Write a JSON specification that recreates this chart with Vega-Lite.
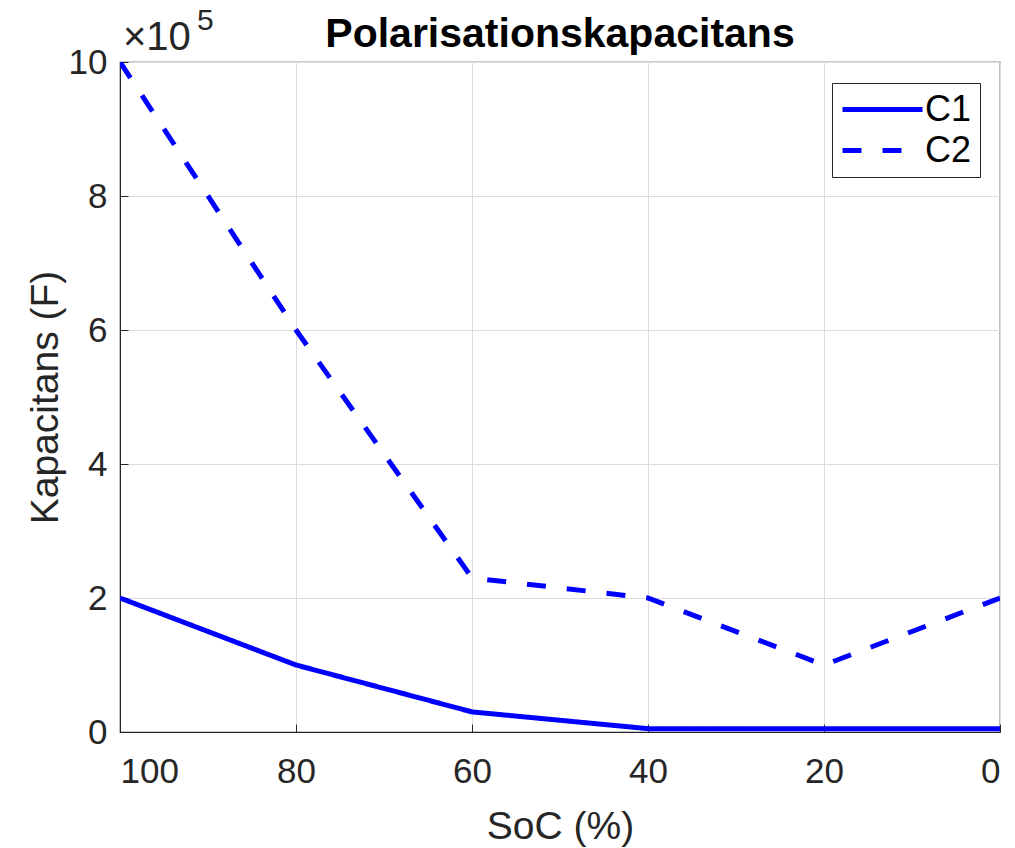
{
  "$schema": "https://vega.github.io/schema/vega-lite/v6.json",
  "width": 880,
  "height": 670,
  "autosize": {"type": "none"},
  "padding": {"left": 120, "top": 62, "right": 15, "bottom": 116},
  "background": "white",
  "config": {
    "font": "Liberation Sans",
    "view": {"stroke": "#262626", "strokeWidth": 1.2},
    "axis": {
      "labelFont": "Liberation Sans",
      "titleFont": "Liberation Sans",
      "labelColor": "#262626",
      "titleColor": "#262626",
      "labelFontSize": 35,
      "titleFontSize": 39,
      "titleFontWeight": "normal",
      "gridColor": "#dcdcdc",
      "gridWidth": 1,
      "domainColor": "#262626",
      "tickColor": "#262626",
      "tickSize": -8
    }
  },
  "data": {
    "values": [
      {"soc": 100, "cap": 200000, "series": "C1"},
      {"soc": 80, "cap": 100000, "series": "C1"},
      {"soc": 60, "cap": 30000, "series": "C1"},
      {"soc": 40, "cap": 5000, "series": "C1"},
      {"soc": 20, "cap": 5000, "series": "C1"},
      {"soc": 0, "cap": 5000, "series": "C1"},
      {"soc": 100, "cap": 1000000, "series": "C2"},
      {"soc": 80, "cap": 600000, "series": "C2"},
      {"soc": 60, "cap": 230000, "series": "C2"},
      {"soc": 40, "cap": 200000, "series": "C2"},
      {"soc": 20, "cap": 100000, "series": "C2"},
      {"soc": 0, "cap": 200000, "series": "C2"}
    ]
  },
  "layer": [
    {
      "mark": {"type": "line", "color": "#0000ff", "strokeWidth": 5, "clip": true},
      "encoding": {
        "x": {
          "field": "soc", "type": "quantitative",
          "scale": {"domain": [100, 0], "nice": false},
          "axis": {"values": [100, 80, 60, 40, 20, 0], "title": "SoC (%)", "titlePadding": 18, "labelPadding": 30}
        },
        "y": {
          "field": "cap", "type": "quantitative",
          "scale": {"domain": [0, 1000000], "nice": false},
          "axis": {
            "values": [0, 200000, 400000, 600000, 800000, 1000000],
            "labelExpr": "format(datum.value / 100000, 'd')",
            "title": "Kapacitans (F)",
            "labelPadding": 21,
            "titlePadding": 3
          }
        },
        "strokeDash": {
          "field": "series", "type": "nominal",
          "scale": {"domain": ["C1", "C2"], "range": [[1, 0], [19, 21]]},
          "legend": {
            "title": null,
            "orient": "none",
            "legendX": 712,
            "legendY": 21,
            "fillColor": "white",
            "strokeColor": "#262626",
            "padding": 8,
            "symbolType": "M-2.5,0H2.5",
            "symbolSize": 1024,
            "symbolOffset": 24,
            "symbolStrokeWidth": 5,
            "symbolStrokeColor": "#0000ff",
            "labelFontSize": 36,
            "labelColor": "black",
            "labelFont": "Liberation Sans",
            "rowPadding": 4,
            "labelOffset": 24
          }
        }
      }
    },
    {
      "data": {"values": [{}]},
      "mark": {"type": "text", "text": "×10", "fontSize": 40, "fontWeight": "normal", "color": "#262626", "align": "left", "baseline": "alphabetic", "dx": 3, "dy": -12},
      "encoding": {"x": {"datum": 100, "type": "quantitative"}, "y": {"datum": 1000000, "type": "quantitative"}}
    },
    {
      "data": {"values": [{}]},
      "mark": {"type": "text", "text": "5", "fontSize": 30, "fontWeight": "normal", "color": "#262626", "align": "left", "baseline": "alphabetic", "dx": 77, "dy": -32},
      "encoding": {"x": {"datum": 100, "type": "quantitative"}, "y": {"datum": 1000000, "type": "quantitative"}}
    },
    {
      "data": {"values": [{}]},
      "mark": {"type": "text", "text": "Polarisationskapacitans", "fontSize": 41, "fontWeight": "bold", "color": "black", "align": "center", "baseline": "alphabetic", "dy": -15},
      "encoding": {"x": {"datum": 50, "type": "quantitative"}, "y": {"datum": 1000000, "type": "quantitative"}}
    }
  ]
}
